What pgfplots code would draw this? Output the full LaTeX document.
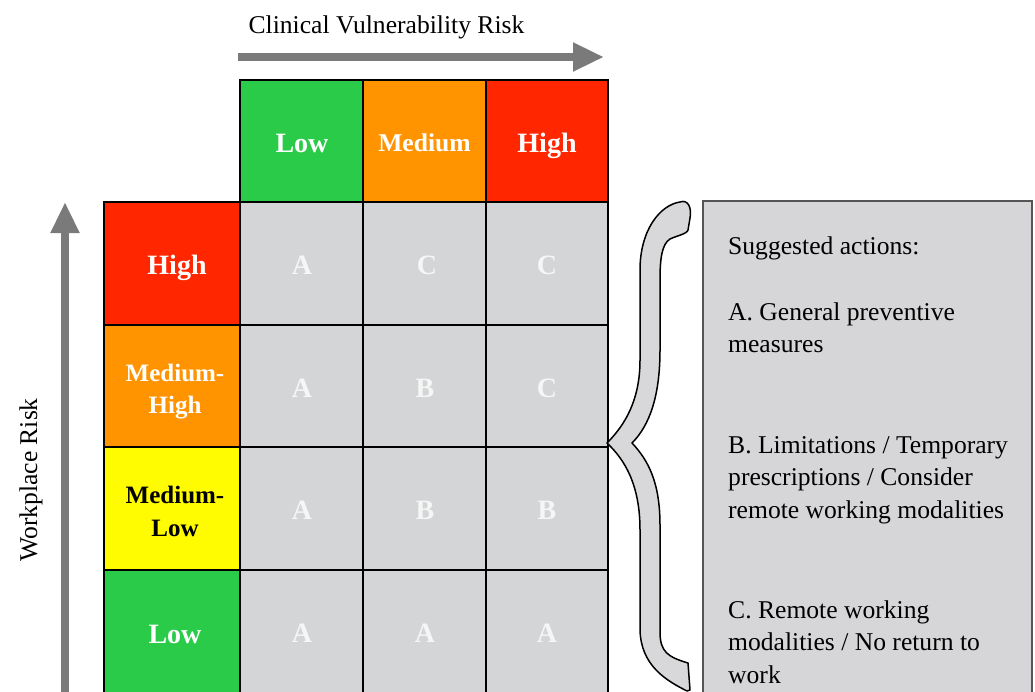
\documentclass[border=0pt]{standalone}
\usepackage{pgfplots}
\pgfplotsset{compat=1.18}
\usepackage{fontspec}
\setmainfont{Liberation Serif}
\usetikzlibrary{arrows.meta}
\definecolor{cgreen}{RGB}{42,203,72}
\definecolor{corange}{RGB}{255,147,0}
\definecolor{cred}{RGB}{255,38,0}
\definecolor{cyellow}{RGB}{255,251,0}
\definecolor{cgray}{RGB}{212,213,215}
\definecolor{boxgray}{RGB}{214,214,216}
\definecolor{bracegray}{RGB}{216,216,218}
\definecolor{arrowgray}{RGB}{122,122,122}
\definecolor{lettercol}{RGB}{246,246,246}
\definecolor{boxborder}{RGB}{85,85,85}
\newcommand{\fsz}[1]{\fontsize{#1pt}{32pt}\selectfont}
\begin{document}
\begin{tikzpicture}
\begin{axis}[name=A, width=1035pt, height=691pt, scale only axis,
  xmin=0, xmax=1035, ymin=0, ymax=691, y dir=reverse, hide axis, clip=true]
% arrows
\addplot[color=arrowgray, line width=8pt, -{Triangle[width=27pt,length=31pt]}] coordinates {(238,57) (604,57)};
\addplot[color=arrowgray, line width=8pt, -{Triangle[width=27pt,length=31pt]}] coordinates {(65,700) (65,202)};
% header cells
\addplot[draw=black, line width=1.5pt, fill=cgreen]  coordinates {(240,80) (363,80) (363,202) (240,202)} -- cycle;
\addplot[draw=black, line width=1.5pt, fill=corange] coordinates {(363,80) (486,80) (486,202) (363,202)} -- cycle;
\addplot[draw=black, line width=1.5pt, fill=cred]    coordinates {(486,80) (608,80) (608,202) (486,202)} -- cycle;
% left cells
\addplot[draw=black, line width=1.5pt, fill=cred]    coordinates {(104,202) (240,202) (240,325) (104,325)} -- cycle;
\addplot[draw=black, line width=1.5pt, fill=corange] coordinates {(104,325) (240,325) (240,447) (104,447)} -- cycle;
\addplot[draw=black, line width=1.5pt, fill=cyellow] coordinates {(104,447) (240,447) (240,570) (104,570)} -- cycle;
\addplot[draw=black, line width=1.5pt, fill=cgreen]  coordinates {(104,570) (240,570) (240,705) (104,705)} -- cycle;
% grey grid
\addplot[draw=black, line width=1.5pt, fill=cgray] coordinates {(240,202) (363,202) (363,325) (240,325)} -- cycle;
\addplot[draw=black, line width=1.5pt, fill=cgray] coordinates {(363,202) (486,202) (486,325) (363,325)} -- cycle;
\addplot[draw=black, line width=1.5pt, fill=cgray] coordinates {(486,202) (608,202) (608,325) (486,325)} -- cycle;
\addplot[draw=black, line width=1.5pt, fill=cgray] coordinates {(240,325) (363,325) (363,447) (240,447)} -- cycle;
\addplot[draw=black, line width=1.5pt, fill=cgray] coordinates {(363,325) (486,325) (486,447) (363,447)} -- cycle;
\addplot[draw=black, line width=1.5pt, fill=cgray] coordinates {(486,325) (608,325) (608,447) (486,447)} -- cycle;
\addplot[draw=black, line width=1.5pt, fill=cgray] coordinates {(240,447) (363,447) (363,570) (240,570)} -- cycle;
\addplot[draw=black, line width=1.5pt, fill=cgray] coordinates {(363,447) (486,447) (486,570) (363,570)} -- cycle;
\addplot[draw=black, line width=1.5pt, fill=cgray] coordinates {(486,447) (608,447) (608,570) (486,570)} -- cycle;
\addplot[draw=black, line width=1.5pt, fill=cgray] coordinates {(240,570) (363,570) (363,705) (240,705)} -- cycle;
\addplot[draw=black, line width=1.5pt, fill=cgray] coordinates {(363,570) (486,570) (486,705) (363,705)} -- cycle;
\addplot[draw=black, line width=1.5pt, fill=cgray] coordinates {(486,570) (608,570) (608,705) (486,705)} -- cycle;
% right box
\addplot[draw=boxborder, line width=1.5pt, fill=boxgray] coordinates {(703,201) (1032,201) (1032,705) (703,705)} -- cycle;
% brace
\draw[fill=bracegray, line width=1.5pt, line join=round]
  (axis cs:680,202) .. controls (axis cs:688,199) and (axis cs:692,208) .. (axis cs:690,218)
  -- (axis cs:688,230)
  .. controls (axis cs:687,234) and (axis cs:676,236) .. (axis cs:670,239)
  .. controls (axis cs:662,244) and (axis cs:660,258) .. (axis cs:660,280)
  -- (axis cs:660,350)
  .. controls (axis cs:660,395) and (axis cs:650,425) .. (axis cs:632,443)
  .. controls (axis cs:648,460) and (axis cs:660,482) .. (axis cs:660,525)
  -- (axis cs:660,632)
  .. controls (axis cs:660,652) and (axis cs:668,657) .. (axis cs:688,663)
  -- (axis cs:690,690)
  -- (axis cs:687,691)
  .. controls (axis cs:665,680) and (axis cs:641,665) .. (axis cs:640,630)
  -- (axis cs:640,530)
  .. controls (axis cs:640,485) and (axis cs:625,460) .. (axis cs:607,443)
  .. controls (axis cs:625,425) and (axis cs:640,400) .. (axis cs:640,360)
  -- (axis cs:640,270)
  .. controls (axis cs:640,230) and (axis cs:660,205) .. (axis cs:680,202) -- cycle;
% titles
\node[anchor=base, inner sep=0pt, font=\fsz{25.6}] at (axis cs:386.5,33) {Clinical Vulnerability Risk};
\node[anchor=base, inner sep=0pt, rotate=90, font=\fsz{25.6}] at (axis cs:37,480) {Workplace Risk};
% header labels
\node[anchor=base, inner sep=0pt, text=white, font=\fsz{28}\bfseries] at (axis cs:302,152) {Low};
\node[anchor=base, inner sep=0pt, text=white, font=\fsz{25.6}\bfseries] at (axis cs:424.5,151) {Medium};
\node[anchor=base, inner sep=0pt, text=white, font=\fsz{28}\bfseries] at (axis cs:547,152) {High};
% left labels
\node[anchor=base, inner sep=0pt, text=white, font=\fsz{28}\bfseries] at (axis cs:177,274) {High};
\node[anchor=base, inner sep=0pt, text=white, font=\fsz{25}\bfseries] at (axis cs:175,381) {Medium-};
\node[anchor=base, inner sep=0pt, text=white, font=\fsz{25}\bfseries] at (axis cs:175,413) {High};
\node[anchor=base, inner sep=0pt, text=black, font=\fsz{25}\bfseries] at (axis cs:175,503) {Medium-};
\node[anchor=base, inner sep=0pt, text=black, font=\fsz{25}\bfseries] at (axis cs:175,536) {Low};
\node[anchor=base, inner sep=0pt, text=white, font=\fsz{28}\bfseries] at (axis cs:175,643) {Low};
% cell letters
\node[anchor=base, inner sep=0pt, text=lettercol, font=\fsz{28}\bfseries] at (axis cs:302,274) {A};
\node[anchor=base, inner sep=0pt, text=lettercol, font=\fsz{28}\bfseries] at (axis cs:427,274) {C};
\node[anchor=base, inner sep=0pt, text=lettercol, font=\fsz{28}\bfseries] at (axis cs:547,274) {C};
\node[anchor=base, inner sep=0pt, text=lettercol, font=\fsz{28}\bfseries] at (axis cs:302,397) {A};
\node[anchor=base, inner sep=0pt, text=lettercol, font=\fsz{28}\bfseries] at (axis cs:425,397) {B};
\node[anchor=base, inner sep=0pt, text=lettercol, font=\fsz{28}\bfseries] at (axis cs:547,397) {C};
\node[anchor=base, inner sep=0pt, text=lettercol, font=\fsz{28}\bfseries] at (axis cs:302,519) {A};
\node[anchor=base, inner sep=0pt, text=lettercol, font=\fsz{28}\bfseries] at (axis cs:425,519) {B};
\node[anchor=base, inner sep=0pt, text=lettercol, font=\fsz{28}\bfseries] at (axis cs:547,519) {B};
\node[anchor=base, inner sep=0pt, text=lettercol, font=\fsz{28}\bfseries] at (axis cs:302,642) {A};
\node[anchor=base, inner sep=0pt, text=lettercol, font=\fsz{28}\bfseries] at (axis cs:425,642) {A};
\node[anchor=base, inner sep=0pt, text=lettercol, font=\fsz{28}\bfseries] at (axis cs:547,642) {A};
% box text
\node[anchor=base west, inner sep=0pt, font=\fsz{25.6}] at (axis cs:728,254) {Suggested actions:};
\node[anchor=base west, inner sep=0pt, font=\fsz{25.6}] at (axis cs:728,320) {A. General preventive};
\node[anchor=base west, inner sep=0pt, font=\fsz{25.6}] at (axis cs:728,352) {measures};
\node[anchor=base west, inner sep=0pt, font=\fsz{25.6}] at (axis cs:728,453) {B. Limitations / Temporary};
\node[anchor=base west, inner sep=0pt, font=\fsz{25.6}] at (axis cs:728,485) {prescriptions / Consider};
\node[anchor=base west, inner sep=0pt, font=\fsz{25.6}] at (axis cs:728,518) {remote working modalities};
\node[anchor=base west, inner sep=0pt, font=\fsz{25.6}] at (axis cs:728,618) {C. Remote working};
\node[anchor=base west, inner sep=0pt, font=\fsz{25.6}] at (axis cs:728,650) {modalities / No return to};
\node[anchor=base west, inner sep=0pt, font=\fsz{25.6}] at (axis cs:728,683) {work};
\end{axis}
\pgfresetboundingbox
\path (A.south west) rectangle (A.north east);
\end{tikzpicture}
\end{document}
